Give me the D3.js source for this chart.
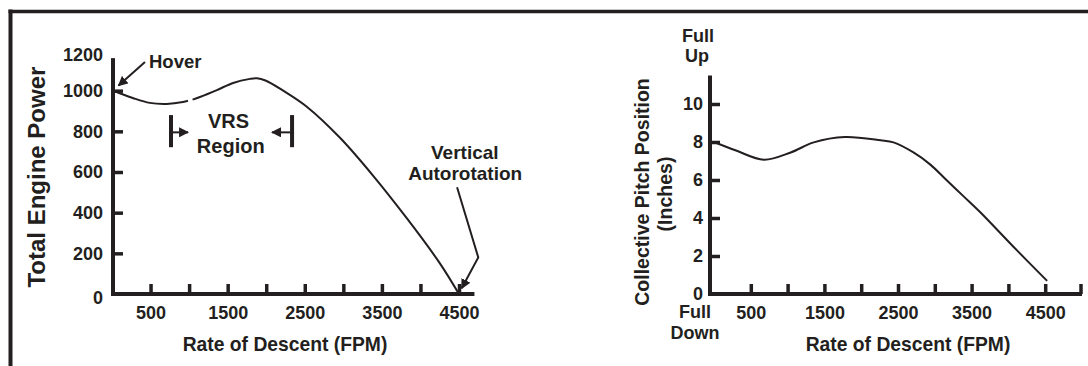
<!DOCTYPE html>
<html><head><meta charset="utf-8">
<script src="https://cdn.jsdelivr.net/npm/d3@7"></script>
<style>
html,body{margin:0;padding:0;background:#fff;}
svg{display:block;font-family:"Liberation Sans",Arial,sans-serif;font-weight:bold;}
</style></head>
<body><svg id="c" width="1088" height="366"></svg>
<script>
// ---- data ----
const descentPower = [0,270,490,710,920,985,1015,1045,1140,1360,1570,1790,1880,1990,2220,2530,2960,3390,3830,4250,4500];
const enginePower  = [1002,964,940,935,944,950,null,956,969,1003,1038,1058,1061,1050,1000,920,767,580,369,152,0];
const descentPitch = [0,300,678,1043,1355,1780,2263,2439,2710,2940,3144,3388,3618,4065,4526];
const pitchInches  = [8.0,7.55,7.07,7.45,7.98,8.26,8.09,7.98,7.45,6.81,6.05,5.15,4.3,2.5,0.69];
const xTicks = [500,1000,1500,2000,2500,3000,3500,4000,4500];
const xTicksR = [500,1000,1500,2000,2500,3000,3500,4000,4500,5000];
const xTickLabels = [500,1500,2500,3500,4500];
const powerTicks = [0,200,400,600,800,1000,1200];
const pitchTicks = [0,2,4,6,8,10];

const ink = "#231f20";
const svg = d3.select("#c");

// frame
svg.append("line").attr("x1",10.5).attr("x2",10.5).attr("y1",9.5).attr("y2",366).attr("stroke",ink).attr("stroke-width",4);
svg.append("line").attr("x1",8.5).attr("x2",1088).attr("y1",11.5).attr("y2",11.5).attr("stroke",ink).attr("stroke-width",3.5);

const defs = svg.append("defs");
defs.append("marker").attr("id","ah").attr("viewBox","0 0 10 10").attr("refX",9).attr("refY",5)
  .attr("markerWidth",10).attr("markerHeight",10).attr("markerUnits","userSpaceOnUse").attr("orient","auto")
  .append("path").attr("d","M0,0 L10,5 L0,10 Z").attr("fill",ink);

function styleAxis(g){
  g.select(".domain").remove();
  g.selectAll(".tick line").attr("stroke",ink).attr("stroke-width",3.5);
  g.selectAll(".tick text").attr("fill",ink).style("font-size","18px").style("font-family","Liberation Sans, Arial, sans-serif").style("font-weight","bold");
}

// ---------------- LEFT CHART ----------------
const xL = d3.scaleLinear().domain([0,4500]).range([112,459]);
const yL = d3.scaleLinear().domain([0,1200]).range([294,50]);

svg.append("line").attr("x1",xL(0)+1).attr("x2",xL(0)+1).attr("y1",yL(1160)).attr("y2",yL(0)+2).attr("stroke",ink).attr("stroke-width",4);
svg.append("line").attr("x1",xL(0)-1).attr("x2",xL(4700)).attr("y1",yL(0)).attr("y2",yL(0)).attr("stroke",ink).attr("stroke-width",4);

const gxL = svg.append("g").attr("transform",`translate(0,${yL(0)})`)
  .call(d3.axisBottom(xL).tickValues(xTicks).tickSizeInner(-10).tickSizeOuter(0).tickPadding(12)
    .tickFormat(d=>xTickLabels.includes(d)?d:""));
styleAxis(gxL);
gxL.selectAll(".tick text").attr("dy","0.71em");

const gyL = svg.append("g").attr("transform",`translate(${xL(0)+1},0)`)
  .call(d3.axisLeft(yL).tickValues(powerTicks).tickSizeInner(-10).tickSizeOuter(0).tickPadding(10).tickFormat(d=>d));
styleAxis(gyL);
gyL.selectAll(".tick").filter(d=>d===0||d===1200).select("line").remove();
gyL.selectAll(".tick").filter(d=>d===1200).select("text").attr("dy","0.6em");
gyL.selectAll(".tick").filter(d=>d===0).select("text").attr("dy","0.55em");

const lineL = d3.line().defined((d,i)=>enginePower[i]!==null)
  .x((d,i)=>xL(descentPower[i])).y((d,i)=>yL(enginePower[i])).curve(d3.curveCatmullRom.alpha(0.5));
svg.append("path").attr("d",lineL(descentPower)).attr("fill","none").attr("stroke",ink).attr("stroke-width",2);

svg.append("text").attr("transform",`translate(45,${(yL(0)+yL(1160))/2+1}) rotate(-90)`).attr("text-anchor","middle")
  .attr("fill",ink).style("font-size","24px").text("Total Engine Power");
svg.append("text").attr("x",285).attr("y",351).attr("text-anchor","middle").attr("fill",ink).style("font-size","19.3px").text("Rate of Descent (FPM)");

// annotations
svg.append("text").attr("x",xL(480)).attr("y",yL(1110)).attr("fill",ink).style("font-size","18.5px").text("Hover");
svg.append("line").attr("x1",xL(428)).attr("y1",yL(1141)).attr("x2",xL(85)).attr("y2",yL(1025))
  .attr("stroke",ink).attr("stroke-width",2).attr("marker-end","url(#ah)");

svg.append("text").attr("x",xL(1510)).attr("y",yL(815)).attr("text-anchor","middle").attr("fill",ink).style("font-size","20px").text("VRS");
svg.append("text").attr("x",xL(1540)).attr("y",yL(693)).attr("text-anchor","middle").attr("fill",ink).style("font-size","20px").text("Region");
[[765,986],[2335,2075]].forEach(([b,t])=>{
  svg.append("line").attr("x1",xL(b)).attr("x2",xL(b)).attr("y1",yL(880)).attr("y2",yL(722)).attr("stroke",ink).attr("stroke-width",4);
  svg.append("line").attr("x1",xL(b)).attr("x2",xL(t)).attr("y1",yL(795)).attr("y2",yL(795)).attr("stroke",ink).attr("stroke-width",2).attr("marker-end","url(#ah)");
});

svg.append("text").attr("x",xL(4575)).attr("y",yL(662)).attr("text-anchor","middle").attr("fill",ink).style("font-size","19px").text("Vertical");
svg.append("text").attr("x",xL(4580)).attr("y",yL(559)).attr("text-anchor","middle").attr("fill",ink).style("font-size","19px").text("Autorotation");
svg.append("polyline").attr("points",[[xL(4475),yL(525)],[xL(4750),yL(180)],[xL(4535),yL(28)]].map(p=>p.join(",")).join(" "))
  .attr("fill","none").attr("stroke",ink).attr("stroke-width",2).attr("marker-end","url(#ah)");

// ---------------- RIGHT CHART ----------------
const xR = d3.scaleLinear().domain([0,5000]).range([714,1082]);
const yR = d3.scaleLinear().domain([0,10]).range([294,104]);

svg.append("line").attr("x1",710).attr("x2",710).attr("y1",yR(11.5)).attr("y2",yR(0)+2).attr("stroke",ink).attr("stroke-width",4);
svg.append("line").attr("x1",708).attr("x2",xR(5000)).attr("y1",yR(0)).attr("y2",yR(0)).attr("stroke",ink).attr("stroke-width",4);

const gxR = svg.append("g").attr("transform",`translate(0,${yR(0)})`)
  .call(d3.axisBottom(xR).tickValues(xTicksR).tickSizeInner(-10).tickSizeOuter(0).tickPadding(12)
    .tickFormat(d=>xTickLabels.includes(d)?d:""));
styleAxis(gxR);
gxR.selectAll(".tick text").attr("dy","0.71em");
gxR.selectAll(".tick").filter(d=>d===5000).select("line").attr("transform","translate(-1.5,0)");

const gyR = svg.append("g").attr("transform",`translate(710,0)`)
  .call(d3.axisLeft(yR).tickValues(pitchTicks).tickSizeInner(-10).tickSizeOuter(0).tickPadding(7).tickFormat(d=>d));
styleAxis(gyR);
gyR.selectAll(".tick").filter(d=>d===0).select("line").remove();
gyR.selectAll(".tick").filter(d=>d===0).select("text").attr("dy","0.3em");

const lineR = d3.line().x((d,i)=>xR(descentPitch[i])).y((d,i)=>yR(pitchInches[i])).curve(d3.curveCatmullRom.alpha(0.5));
svg.append("path").attr("d",lineR(descentPitch)).attr("fill","none").attr("stroke",ink).attr("stroke-width",2);

svg.append("text").attr("transform",`translate(649,192) rotate(-90)`).attr("text-anchor","middle").attr("fill",ink).style("font-size","19.5px").text("Collective Pitch Position");
svg.append("text").attr("transform",`translate(672,194) rotate(-90)`).attr("text-anchor","middle").attr("fill",ink).style("font-size","19.5px").text("(Inches)");
svg.append("text").attr("x",908).attr("y",351).attr("text-anchor","middle").attr("fill",ink).style("font-size","19.3px").text("Rate of Descent (FPM)");

svg.append("text").attr("x",698).attr("y",42).attr("text-anchor","middle").attr("fill",ink).style("font-size","18px").text("Full");
svg.append("text").attr("x",697).attr("y",62).attr("text-anchor","middle").attr("fill",ink).style("font-size","18px").text("Up");
svg.append("text").attr("x",695).attr("y",318).attr("text-anchor","middle").attr("fill",ink).style("font-size","18px").text("Full");
svg.append("text").attr("x",695).attr("y",339).attr("text-anchor","middle").attr("fill",ink).style("font-size","18px").text("Down");
</script></body></html>
